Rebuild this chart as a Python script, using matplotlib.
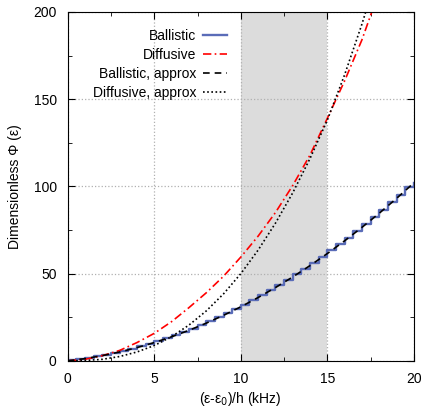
# Dimensionless Phi(eps) for ballistic and diffusive regimes

import numpy as np
import matplotlib.pyplot as plt
from matplotlib.ticker import MultipleLocator

plt.rcParams['font.family'] = ['Liberation Sans', 'DejaVu Sans']

# ballistic: staircase, one level per 0.5 kHz
x_steps = np.arange(0, 20.5, 0.5)
ballistic = [0.3, 0.9, 1.7, 2.5, 3.5, 4.5, 5.7, 6.9, 8.3, 9.7,
             11.3, 12.9, 14.7, 16.5, 18.5, 20.5, 22.7, 24.9, 27.3, 29.7,
             32.3, 34.9, 37.7, 40.5, 43.5, 46.5, 49.7, 52.9, 56.3, 59.7,
             63.3, 66.9, 70.7, 74.5, 78.5, 82.5, 86.7, 90.9, 95.3, 99.7,
             102.0]

# smooth curves, one value per kHz
x_khz = np.arange(0, 21, 1)
ballistic_approx = [0, 1.3, 3.0, 5.1, 7.6, 10.5, 13.8, 17.5, 21.6, 26.1,
                    31.0, 36.3, 42.0, 48.1, 54.6, 61.5, 68.8, 76.5, 84.6, 93.1,
                    102.0]
diffusive = [0, 0.9, 3.0, 6.0, 10.5, 15.8, 22.5, 30.5, 39.0, 48.5,
             59.5, 71.5, 85.0, 100.5, 118.0, 139.0, 160.5, 184.0, 212.0, 242.0,
             274.0]
diffusive_approx = [0, 0.2, 0.9, 2.5, 5.1, 8.8, 13.9, 20.5, 28.6, 38.4,
                    50.0, 63.5, 78.9, 96.3, 116.0, 138.0, 164.0, 193.0, 225.0, 260.0,
                    298.0]

fig = plt.figure(figsize=(4.24, 4.11), dpi=100)
ax = fig.add_axes([0.160, 0.122, 0.816, 0.849])

ax.axvspan(10, 15, color='#dcdcdc', lw=0, zorder=0)

ax.plot(x_steps, ballistic, drawstyle='steps-post', color='#5a6cb8', lw=1.7,
        label='Ballistic')
ax.plot(x_khz, diffusive, color='#ff0000', lw=1.2, ls=(0, (5, 2, 1, 2)),
        label='Diffusive')
ax.plot(x_khz, ballistic_approx, color='black', lw=1.2, ls=(0, (4, 3)),
        label='Ballistic, approx')
ax.plot(x_khz, diffusive_approx, color='black', lw=1.2, ls=(0, (1, 1.5)),
        label='Diffusive, approx')

ax.set_xlim(0, 20)
ax.set_ylim(0, 200)
ax.xaxis.set_major_locator(MultipleLocator(5))
ax.xaxis.set_minor_locator(MultipleLocator(2.5))
ax.yaxis.set_major_locator(MultipleLocator(50))
ax.yaxis.set_minor_locator(MultipleLocator(25))
ax.tick_params(which='both', direction='in', top=True, right=True,
               labelsize=10, pad=8)
ax.tick_params(which='major', length=5)
ax.tick_params(which='minor', length=3)
ax.grid(True, which='major', ls=':', color='#b0b0b0', lw=0.9)
ax.set_axisbelow(True)

ax.set_xlabel('(ε-ε$_0$)/h (kHz)', fontsize=10, labelpad=3)
ax.set_ylabel('Dimensionless Φ (ε)', fontsize=10, labelpad=8)

leg = ax.legend(loc='upper right', bbox_to_anchor=(0.46, 0.952), frameon=False,
                markerfirst=False, fontsize=10, handlelength=1.7,
                handletextpad=0.5, labelspacing=0.36, borderpad=0,
                borderaxespad=0)
# right-align the rows so the texts end next to the line samples
for col in leg._legend_box._children[-1]._children:
    col.align = 'right'

fig.savefig('out.png', dpi=100)
